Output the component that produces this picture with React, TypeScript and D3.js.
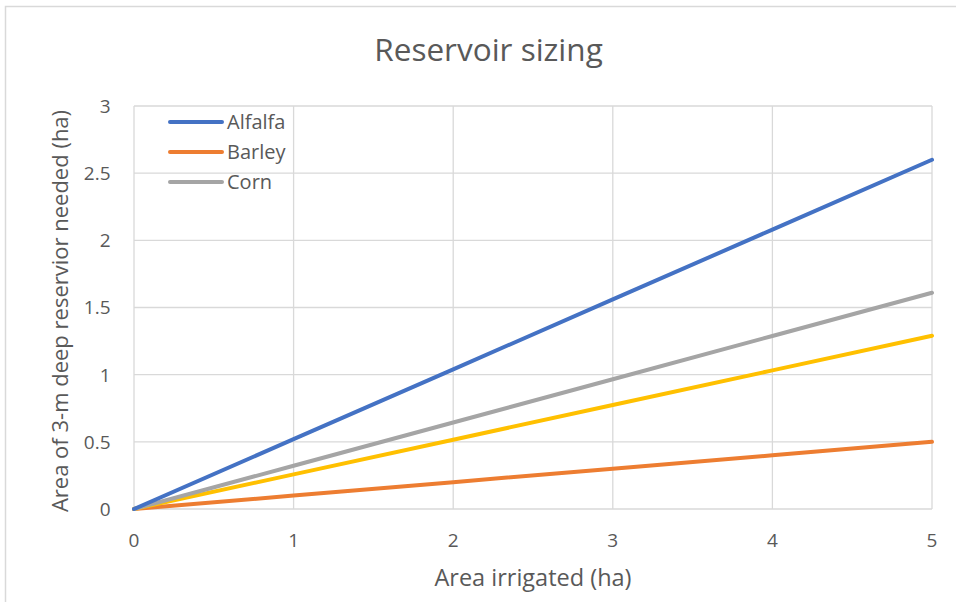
import React from "react";
import * as d3 from "d3";

const irrigatedArea = [0, 1, 2, 3, 4, 5];
const alfalfa = [0, 0.52, 1.04, 1.56, 2.08, 2.6];
const barley = [0, 0.1, 0.2, 0.3, 0.4, 0.5];
const corn = [0, 0.322, 0.644, 0.966, 1.288, 1.61];
const fourthCrop = [0, 0.258, 0.516, 0.774, 1.032, 1.29];
const xTicks = [0, 1, 2, 3, 4, 5];
const yTicks = [0, 0.5, 1, 1.5, 2, 2.5, 3];

const W = 956;
const H = 602;
const plot = { left: 134, right: 932, top: 106, bottom: 509 };
const FONT = "'Open Sans', 'Noto Sans', sans-serif";
const TEXT = "#595959";
const GRID = "#d9d9d9";

const series = [
  { name: "Alfalfa", values: alfalfa, color: "#4472C4", legend: true },
  { name: "Barley", values: barley, color: "#ED7D31", legend: true },
  { name: "Corn", values: corn, color: "#A5A5A5", legend: true },
  { name: "", values: fourthCrop, color: "#FFC000", legend: false },
];
// drawing order: barley first, alfalfa on top
const drawOrder = [1, 3, 2, 0];

export default function App() {
  const x = d3.scaleLinear().domain([0, 5]).range([plot.left, plot.right]);
  const y = d3.scaleLinear().domain([0, 3]).range([plot.bottom, plot.top]);
  const line = d3
    .line<number>()
    .x((_, i) => x(irrigatedArea[i]))
    .y((d) => y(d));

  const legendItems = series.filter((s) => s.legend);

  return (
    <svg
      width={W}
      height={H}
      style={{ position: "absolute", left: 0, top: 0, background: "#fff" }}
      fontFamily={FONT}
    >
      <rect x={5.5} y={6.5} width={W + 10} height={H + 10} fill="#fff" stroke={GRID} strokeWidth={1.5} />
      <text x={488.5} y={61} textAnchor="middle" fontSize={31.5} fill={TEXT}>
        Reservoir sizing
      </text>

      {yTicks.map((t) => (
        <line key={"gy" + t} x1={plot.left} x2={plot.right} y1={y(t)} y2={y(t)} stroke={GRID} strokeWidth={1.3} />
      ))}
      {xTicks.map((t) => (
        <line key={"gx" + t} x1={x(t)} x2={x(t)} y1={plot.top} y2={plot.bottom} stroke={GRID} strokeWidth={1.3} />
      ))}

      {yTicks.map((t) => (
        <text key={"ly" + t} x={110.5} y={y(t)} dy="0.36em" textAnchor="end" fontSize={19} fill={TEXT}>
          {t}
        </text>
      ))}
      {xTicks.map((t) => (
        <text key={"lx" + t} x={x(t)} y={547} textAnchor="middle" fontSize={19} fill={TEXT}>
          {t}
        </text>
      ))}

      <text x={533} y={586} textAnchor="middle" fontSize={23.5} fill={TEXT}>
        Area irrigated (ha)
      </text>
      <text
        transform={`translate(68, 311) rotate(-90)`}
        textAnchor="middle"
        fontSize={22}
        fill={TEXT}
      >
        Area of 3-m deep reservior needed (ha)
      </text>

      {drawOrder.map((i) => (
        <path
          key={"s" + i}
          d={line(series[i].values) || ""}
          fill="none"
          stroke={series[i].color}
          strokeWidth={4}
          strokeLinecap="round"
        />
      ))}

      {legendItems.map((s, i) => (
        <g key={"lg" + s.name} transform={`translate(170, ${122 + i * 30})`}>
          <line x1={0} x2={52} y1={0} y2={0} stroke={s.color} strokeWidth={4} strokeLinecap="round" />
          <text x={57} y={0} dy="0.36em" fontSize={20} fill={TEXT}>
            {s.name}
          </text>
        </g>
      ))}
    </svg>
  );
}
